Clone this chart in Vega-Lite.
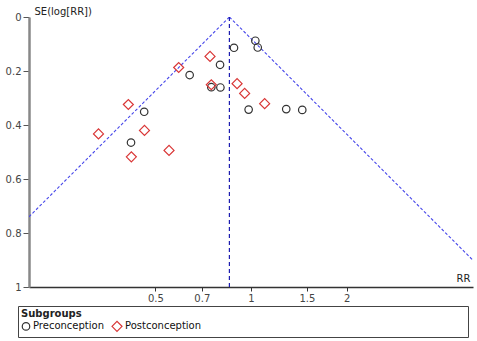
{
  "$schema": "https://vega.github.io/schema/vega-lite/v6.json",
  "width": 444,
  "height": 270,
  "autosize": {"type": "none"},
  "padding": {"left": 29, "top": 17, "right": 4, "bottom": 54},
  "config": {
    "font": "DejaVu Sans",
    "view": {"stroke": null},
    "axis": {"grid": false, "labelFont": "DejaVu Sans", "titleFont": "DejaVu Sans"}
  },
  "datasets": {
    "studies": [
      {"group": "Preconception", "RR": 0.641, "SE": 0.215},
      {"group": "Preconception", "RR": 0.461, "SE": 0.351},
      {"group": "Preconception", "RR": 0.419, "SE": 0.465},
      {"group": "Preconception", "RR": 0.799, "SE": 0.177},
      {"group": "Preconception", "RR": 0.884, "SE": 0.114},
      {"group": "Preconception", "RR": 1.032, "SE": 0.088},
      {"group": "Preconception", "RR": 1.050, "SE": 0.113},
      {"group": "Preconception", "RR": 0.750, "SE": 0.260},
      {"group": "Preconception", "RR": 0.801, "SE": 0.261},
      {"group": "Preconception", "RR": 0.983, "SE": 0.343},
      {"group": "Preconception", "RR": 1.291, "SE": 0.341},
      {"group": "Preconception", "RR": 1.450, "SE": 0.344},
      {"group": "Postconception", "RR": 0.592, "SE": 0.187},
      {"group": "Postconception", "RR": 0.411, "SE": 0.324},
      {"group": "Postconception", "RR": 0.331, "SE": 0.433},
      {"group": "Postconception", "RR": 0.462, "SE": 0.420},
      {"group": "Postconception", "RR": 0.552, "SE": 0.494},
      {"group": "Postconception", "RR": 0.420, "SE": 0.518},
      {"group": "Postconception", "RR": 0.743, "SE": 0.146},
      {"group": "Postconception", "RR": 0.750, "SE": 0.251},
      {"group": "Postconception", "RR": 0.904, "SE": 0.247},
      {"group": "Postconception", "RR": 0.955, "SE": 0.283},
      {"group": "Postconception", "RR": 1.104, "SE": 0.321}
    ],
    "funnel": [
      {"side": "lower", "RR": 0.855, "SE": 0},
      {"side": "lower", "RR": 0.120, "SE": 1},
      {"side": "upper", "RR": 0.855, "SE": 0},
      {"side": "upper", "RR": 6.07, "SE": 1}
    ],
    "pooled": [
      {"RR": 0.855, "SE": 0},
      {"RR": 0.855, "SE": 1}
    ]
  },
  "layer": [
    {
      "data": {"name": "funnel"},
      "mark": {"type": "line", "clip": true, "stroke": "#4646ea", "strokeWidth": 1.1, "strokeDash": [3, 2]},
      "encoding": {
        "x": {"field": "RR", "type": "quantitative", "scale": {"type": "log", "domain": [0.2, 5], "nice": false}},
        "y": {"field": "SE", "type": "quantitative", "sort": null, "scale": {"domain": [0, 1], "reverse": true, "nice": false}},
        "detail": {"field": "side"},
        "order": {"field": "SE"}
      }
    },
    {
      "data": {"name": "pooled"},
      "mark": {"type": "line", "clip": true, "stroke": "#1c1cb0", "strokeWidth": 1.2, "strokeDash": [4, 3]},
      "encoding": {
        "x": {"field": "RR", "type": "quantitative"},
        "y": {"field": "SE", "type": "quantitative"}
      }
    },
    {
      "data": {"name": "studies"},
      "mark": {"type": "point", "filled": false, "strokeWidth": 1.2, "opacity": 1},
      "encoding": {
        "x": {
          "field": "RR", "type": "quantitative",
          "axis": {
            "values": [0.5, 0.7, 1, 1.5, 2], "format": "~g",
            "domainColor": "#333", "domainWidth": 1.5,
            "tickColor": "#333", "tickSize": 4, "tickWidth": 1,
            "labelColor": "#444", "labelFontSize": 10, "labelPadding": 2,
            "title": "RR", "titleFontSize": 10, "titleFontWeight": "normal", "titleColor": "#222",
            "titleX": 441, "titleY": -4, "titleAlign": "right", "titleBaseline": "bottom", "titleAngle": 0
          }
        },
        "y": {
          "field": "SE", "type": "quantitative",
          "axis": {
            "values": [0, 0.2, 0.4, 0.6, 0.8, 1], "format": "~g",
            "domainColor": "#888", "domainWidth": 2.5,
            "tickColor": "#555", "tickSize": 6, "tickWidth": 1,
            "labelColor": "#444", "labelFontSize": 10, "labelPadding": 2,
            "title": "SE(log[RR])", "titleFontSize": 10, "titleFontWeight": "normal", "titleColor": "#222",
            "titleX": 5, "titleY": -1, "titleAlign": "left", "titleBaseline": "bottom", "titleAngle": 0
          }
        },
        "shape": {
          "field": "group", "type": "nominal",
          "scale": {"domain": ["Preconception", "Postconception"], "range": ["circle", "diamond"]},
          "legend": null
        },
        "size": {
          "field": "group", "type": "nominal",
          "scale": {"domain": ["Preconception", "Postconception"], "range": [56, 100]},
          "legend": null
        },
        "color": {
          "field": "group", "type": "nominal",
          "scale": {"domain": ["Preconception", "Postconception"], "range": ["#333333", "#d93636"]},
          "legend": {
            "title": "Subgroups", "orient": "none", "legendX": -11, "legendY": 289,
            "direction": "horizontal", "symbolType": "circle",
            "titleFontSize": 10, "titleFontWeight": "bold", "titleColor": "#222", "titlePadding": 1,
            "labelFontSize": 10, "labelColor": "#111", "labelOffset": 2, "labelLimit": 500,
            "labelExpr": "datum.label == 'Postconception' ? pad(datum.label, 50, '\u2800') : datum.label",
            "symbolStrokeWidth": 1.2, "symbolSize": 110, "columnPadding": 4,
            "strokeColor": "#444", "padding": 3
          }
        }
      }
    }
  ]
}
